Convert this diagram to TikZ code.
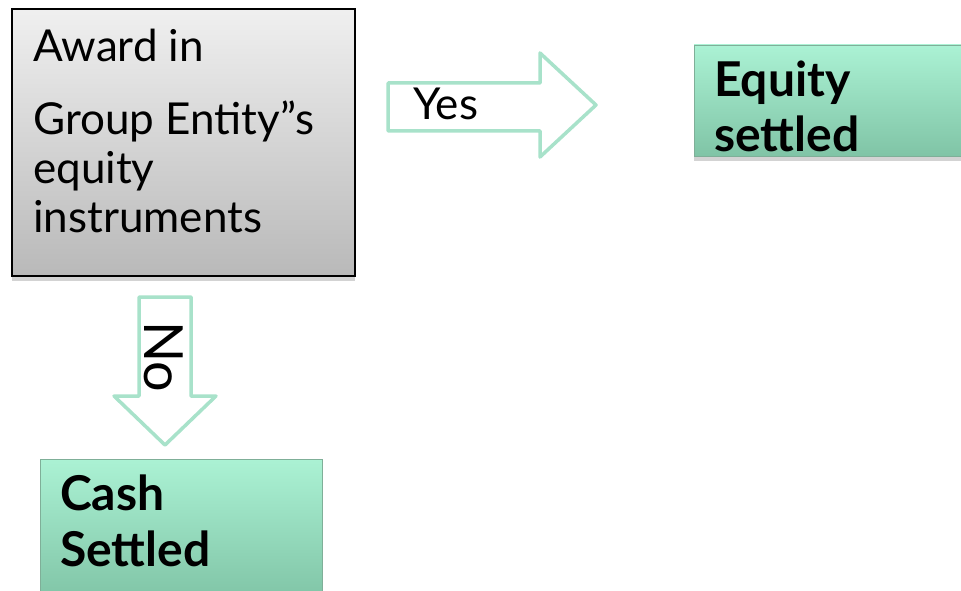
\documentclass[tikz,border=0pt]{standalone}
\usepackage{fontspec}
\setmainfont{Lato}
\usetikzlibrary{shadows}
\definecolor{arrowgreen}{HTML}{A8E2CA}
\definecolor{gtop}{HTML}{ABF2D4}
\definecolor{gbot}{HTML}{80C4A6}
\definecolor{gedge}{HTML}{7FAF98}
\tikzset{
  graybox/.style={draw=black, line width=1.6pt, top color=gray!12, bottom color=gray!55,
    drop shadow={shadow xshift=0pt, shadow yshift=-5pt, opacity=0.35}},
  greenbox/.style={draw=gedge, line width=0.8pt, top color=gtop, bottom color=gbot,
    drop shadow={shadow xshift=0pt, shadow yshift=-5pt, opacity=0.35}},
  blockarrow/.style={draw=arrowgreen, line width=3.5pt, fill=white, line join=round},
  txt/.style={font=\fontsize{44}{48}\selectfont, inner sep=0pt, anchor=base west},
  btxt/.style={font=\fontsize{48}{52}\selectfont\bfseries, inner sep=0pt, anchor=base west},
}
\begin{document}
\begin{tikzpicture}[x=1pt,y=-1pt]
\useasboundingbox (0,0) rectangle (961,591);
\clip (0,0) rectangle (961,591);
% main gray box
\path[graybox] (12,9) rectangle (355,276);
\node[txt] (l1) at (33,62) {Award in};
\node[txt] (l2) at (33,135) {Group Entity"s};
\node[txt] (l3) at (33,183) {equity};
\node[txt] (l4) at (33,232) {instruments};
% yes arrow
\draw[blockarrow] (388,83) -- (540,83) -- (540,53) -- (596,105) -- (540,157) -- (540,131) -- (388,131) -- cycle;
\node[txt] (yes) at (413,120) {Yes};
% equity settled
\path[greenbox] (694,45) rectangle (975,156);
\node[btxt] (e1) at (714,97) {Equity};
\node[btxt] (e2) at (714,152) {settled};
% no arrow
\draw[blockarrow] (139,297) -- (191,297) -- (191,396) -- (216,396) -- (165,445) -- (114,396) -- (139,396) -- cycle;
\node[font=\fontsize{54}{58}\selectfont, inner sep=0pt, anchor=base west, rotate=-90] (no) at (144,321) {No};
% cash settled
\path[greenbox] (40,459) rectangle (322,600);
\node[btxt] (c1) at (60,510) {Cash};
\node[btxt] (c2) at (60,566) {Settled};
\end{tikzpicture}
\end{document}
